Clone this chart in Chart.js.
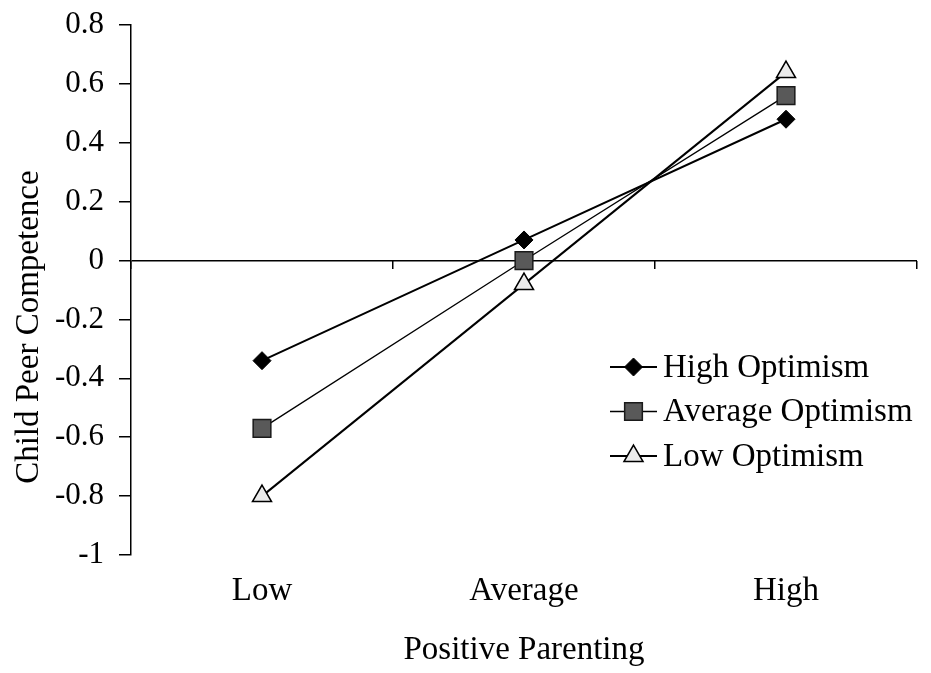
<!DOCTYPE html>
<html><head><meta charset="utf-8">
<script src="https://cdn.jsdelivr.net/npm/chart.js@4/dist/chart.umd.min.js"></script>
<style>html,body{margin:0;padding:0;background:#fff}#wrap{width:931px;height:673px}</style>
</head><body><div id="wrap"><canvas id="c" width="931" height="673"></canvas></div>
<script>
// ---- data ----
const categories = ['Low', 'Average', 'High'];
const seriesNames = ['High Optimism', 'Average Optimism', 'Low Optimism'];
const highOptimism = [-0.34, 0.07, 0.48];
const averageOptimism = [-0.57, 0.00, 0.56];
const lowOptimism = [-0.80, -0.08, 0.64];
const yTickValues = [0.8, 0.6, 0.4, 0.2, 0, -0.2, -0.4, -0.6, -0.8, -1];
const xTitle = 'Positive Parenting';
const yTitle = 'Child Peer Competence';

const FONT = '"Liberation Serif", "Times New Roman", serif';
const NB = '\u00A0';

function drawMarker(ctx, style, r, x, y, fill, stroke, bw) {
  ctx.save();
  ctx.fillStyle = fill; ctx.strokeStyle = stroke; ctx.lineWidth = bw;
  ctx.beginPath();
  if (style === 'rectRot') {
    ctx.moveTo(x, y - r); ctx.lineTo(x + r, y); ctx.lineTo(x, y + r); ctx.lineTo(x - r, y); ctx.closePath();
  } else if (style === 'rect') {
    const s = r * Math.SQRT1_2; ctx.rect(x - s, y - s, 2 * s, 2 * s);
  } else if (style === 'triangle') {
    ctx.moveTo(x, y - r);
    ctx.lineTo(x + r * Math.cos(Math.PI / 6), y + r * 0.5);
    ctx.lineTo(x - r * Math.cos(Math.PI / 6), y + r * 0.5);
    ctx.closePath();
  }
  ctx.fill(); if (bw > 0) ctx.stroke();
  ctx.restore();
}

const insideLegend = {
  id: 'insideLegend',
  afterDatasetsDraw(chart) {
    const ctx = chart.ctx, a = chart.chartArea;
    chart.data.datasets.forEach((ds, i) => {
      const y = a.top + 342 + i * 44.5;
      const x0 = a.right - 307, x1 = a.right - 260, xm = (x0 + x1) / 2;
      ctx.save();
      ctx.strokeStyle = ds.borderColor; ctx.lineWidth = ds.borderWidth;
      ctx.beginPath(); ctx.moveTo(x0, y); ctx.lineTo(x1, y); ctx.stroke();
      drawMarker(ctx, ds.pointStyle, ds.pointRadius, xm, y, ds.pointBackgroundColor, ds.pointBorderColor, ds.pointBorderWidth);
      ctx.font = '33px ' + FONT; ctx.fillStyle = '#000';
      ctx.textBaseline = 'middle'; ctx.textAlign = 'left';
      ctx.fillText(ds.label, x1 + 6, y + 1);
      ctx.restore();
    });
  }
};

new Chart(document.getElementById('c'), {
  type: 'line',
  data: {
    labels: categories,
    datasets: [
      { label: seriesNames[0], data: highOptimism, borderColor: '#000', borderWidth: 2,
        pointStyle: 'rectRot', pointRadius: 9, pointBackgroundColor: '#000', pointBorderColor: '#000', pointBorderWidth: 1 },
      { label: seriesNames[1], data: averageOptimism, borderColor: '#000', borderWidth: 1.3,
        pointStyle: 'rect', pointRadius: 12.5, pointBackgroundColor: '#595959', pointBorderColor: '#1a1a1a', pointBorderWidth: 1.5 },
      { label: seriesNames[2], data: lowOptimism, borderColor: '#000', borderWidth: 2,
        pointStyle: 'triangle', pointRadius: 11, pointBackgroundColor: '#ebebeb', pointBorderColor: '#000', pointBorderWidth: 1.5 }
    ]
  },
  options: {
    responsive: false, animation: false, events: [], devicePixelRatio: 1,
    layout: { padding: { top: 25, right: 7, bottom: 0, left: 0 } },
    plugins: { legend: { display: false }, tooltip: { enabled: false } },
    scales: {
      x: {
        type: 'category', position: 'bottom', offset: true,
        grid: { display: false, drawTicks: false },
        border: { display: false },
        ticks: { color: '#000', font: { family: FONT, size: 33 }, padding: 17, maxRotation: 0 },
        title: { display: true, text: xTitle, color: '#000', font: { family: FONT, size: 33 }, padding: { top: 0, bottom: 3 } },
        afterFit: s => { s.height = 118; }
      },
      x2: {
        type: 'category', labels: categories, position: { y: 0 }, offset: true,
        grid: { display: true, offset: true, drawOnChartArea: false, drawTicks: true, tickLength: 8, color: '#000', tickColor: '#000', lineWidth: 1.5 },
        border: { display: false },
        ticks: { display: false },
        afterFit: s => { s.height = 0; }
      },
      y: {
        type: 'linear', position: 'left', min: -1, max: 0.8,
        afterBuildTicks: s => { s.ticks = yTickValues.map(v => ({ value: v })); },
        grid: {
          drawOnChartArea: true, drawTicks: true, tickLength: 12,
          color: c => (c.tick && Math.abs(c.tick.value) < 1e-9) ? '#000' : 'rgba(0,0,0,0)',
          tickColor: '#000', lineWidth: 1.5
        },
        border: { display: true, color: '#000', width: 1.5 },
        ticks: { color: '#000', font: { family: FONT, size: 31 }, padding: 15,
          callback: v => String(Math.round(v * 10) / 10) },
        title: { display: true, text: yTitle + NB.repeat(9), color: '#000', font: { family: FONT, size: 33 }, padding: { top: 10, bottom: 0 } },
        afterFit: s => { s.width = 131; s.paddingTop = 0; s.paddingBottom = 0; }
      }
    }
  },
  plugins: [insideLegend]
});
</script>
</body></html>
